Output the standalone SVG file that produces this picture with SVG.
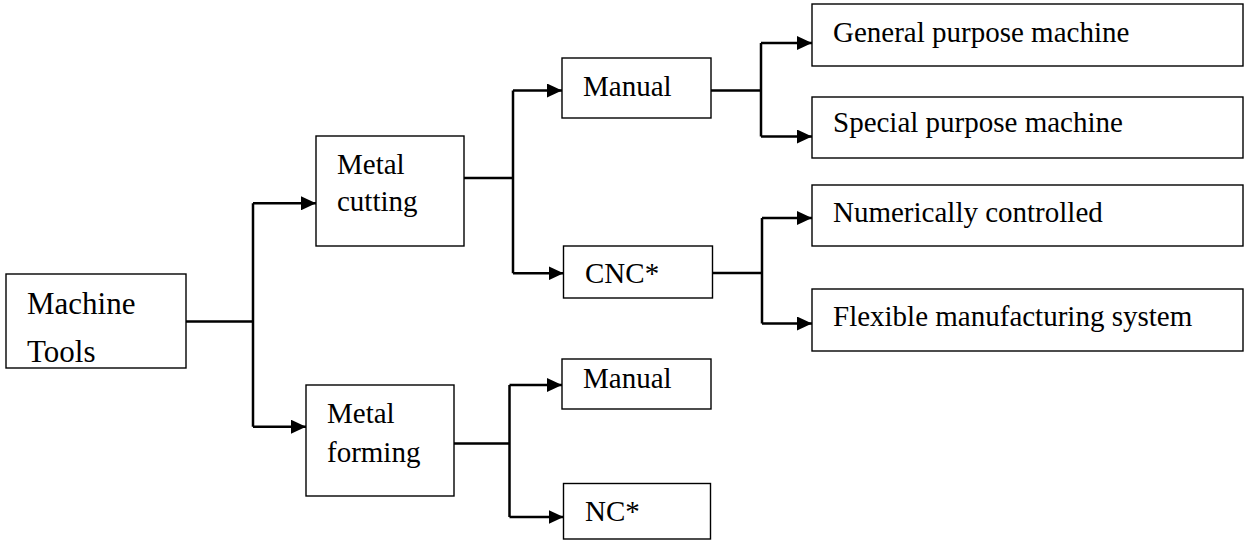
<svg xmlns="http://www.w3.org/2000/svg" width="1244" height="540" viewBox="0 0 1244 540">
<style>
.box{fill:#fff;stroke:#000;stroke-width:1.4}
.t{font-family:'Liberation Serif','Times New Roman','DejaVu Serif',serif;font-size:29px;fill:#000}
.big{font-size:31px}
.c{fill:none;stroke:#000;stroke-width:2.5}
</style>
<defs>
<marker id="ah" markerUnits="userSpaceOnUse" markerWidth="16" markerHeight="14" refX="15" refY="7" orient="auto" viewBox="0 0 16 14">
<path d="M0,0 L15,7 L0,14 z" fill="#000"/>
</marker>
</defs>
<rect width="1244" height="540" fill="#fff"/>
<g id="connectors">
<path class="c" d="M186,321.5 H253 M253,203.3 V426.7"/>
<path class="c" d="M253,203.3 H316" marker-end="url(#ah)"/>
<path class="c" d="M253,426.7 H306" marker-end="url(#ah)"/>
<path class="c" d="M464,178 H513 M513,90.5 V273.3"/>
<path class="c" d="M513,90.5 H562" marker-end="url(#ah)"/>
<path class="c" d="M513,273.3 H563.5" marker-end="url(#ah)"/>
<path class="c" d="M711,90.5 H761 M761,43 V136.5"/>
<path class="c" d="M761,43 H812" marker-end="url(#ah)"/>
<path class="c" d="M761,136.5 H812" marker-end="url(#ah)"/>
<path class="c" d="M712.5,273 H762 M762,218 V323.5"/>
<path class="c" d="M762,218 H812" marker-end="url(#ah)"/>
<path class="c" d="M762,323.5 H812" marker-end="url(#ah)"/>
<path class="c" d="M454,443.5 H509.5 M509.5,385 V517"/>
<path class="c" d="M509.5,385 H562" marker-end="url(#ah)"/>
<path class="c" d="M509.5,517 H563.5" marker-end="url(#ah)"/>
</g>
<g id="machine-tools">
<rect class="box" x="6" y="274" width="180" height="94"/>
<text class="t big" x="27" y="314">Machine</text>
<text class="t big" x="27" y="362">Tools</text>
</g>
<g id="metal-cutting">
<rect class="box" x="316" y="136" width="148" height="110"/>
<text class="t" x="337" y="174">Metal</text>
<text class="t" x="337" y="211">cutting</text>
</g>
<g id="manual-cutting">
<rect class="box" x="562" y="58" width="149" height="60"/>
<text class="t" x="583" y="96">Manual</text>
</g>
<g id="cnc">
<rect class="box" x="563.5" y="246" width="149" height="52"/>
<text class="t" x="585" y="283">CNC*</text>
</g>
<g id="general-purpose">
<rect class="box" x="812" y="4" width="431" height="62"/>
<text class="t" x="833" y="42">General purpose machine</text>
</g>
<g id="special-purpose">
<rect class="box" x="812" y="97" width="431" height="61"/>
<text class="t" x="833" y="132">Special purpose machine</text>
</g>
<g id="numerically-controlled">
<rect class="box" x="812" y="185" width="431" height="61"/>
<text class="t" x="833" y="222">Numerically controlled</text>
</g>
<g id="fms">
<rect class="box" x="812" y="289" width="431" height="62"/>
<text class="t" x="833" y="326">Flexible manufacturing system</text>
</g>
<g id="metal-forming">
<rect class="box" x="306" y="385" width="148" height="111"/>
<text class="t" x="327" y="423">Metal</text>
<text class="t" x="327" y="462">forming</text>
</g>
<g id="manual-forming">
<rect class="box" x="562" y="359" width="149" height="50"/>
<text class="t" x="583" y="388">Manual</text>
</g>
<g id="nc">
<rect class="box" x="563.5" y="483.5" width="147" height="55.5"/>
<text class="t" x="585" y="521">NC*</text>
</g>
</svg>
